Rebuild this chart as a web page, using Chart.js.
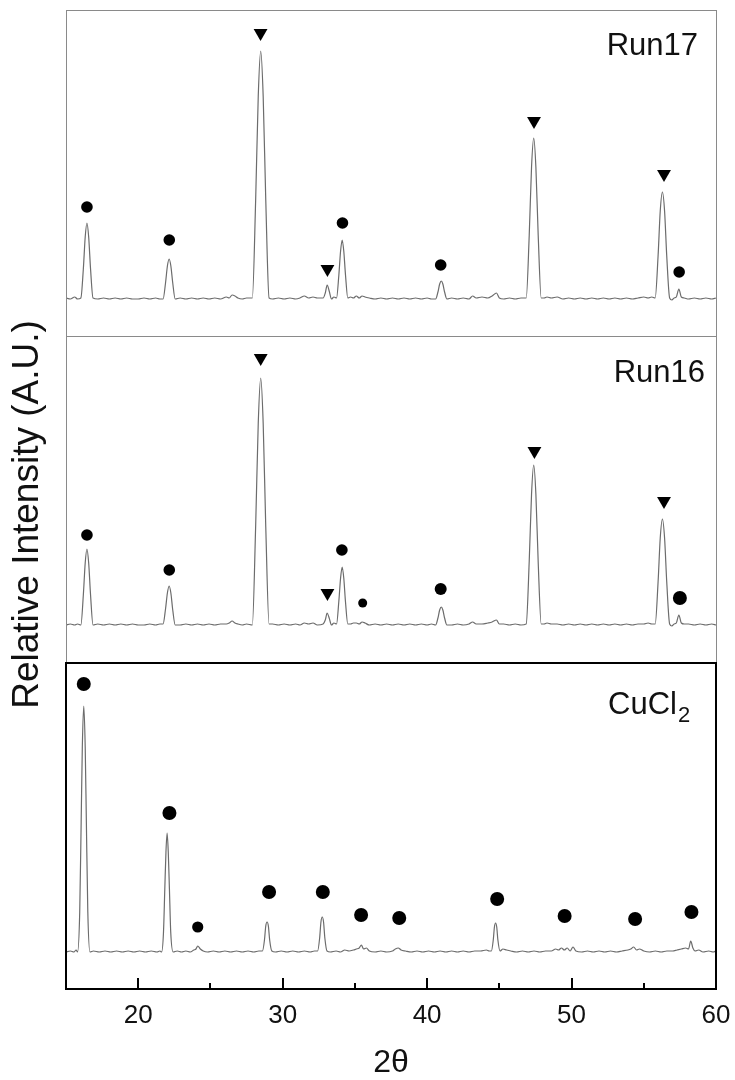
<!DOCTYPE html>
<html>
<head>
<meta charset="utf-8">
<title>XRD patterns</title>
<script src="https://cdn.jsdelivr.net/npm/chart.js@4.4.0/dist/chart.umd.min.js"></script>
<style>
  html, body { margin: 0; padding: 0; background: #fff; }
  canvas { display: block; }
</style>
</head>
<body>
<canvas id="xrd" width="735" height="1080"></canvas>
<script>
// 2-theta / intensity pairs (intensity above each pattern's own baseline)
const run17Pattern = [
  [15.0,1],[15.3,0],[15.6,2],[15.8,0],
  [16.03,1],[16.2,30],[16.33,62],[16.45,76],[16.57,62],[16.7,30],[16.87,1],
  [17.2,0],[17.6,1],[18.0,0],[18.4,1],[18.8,0],[19.2,1],[19.6,0],[20.0,0],[20.4,1],[20.8,0],[21.2,1],[21.5,0],
  [21.72,0],[21.89,16],[22.02,33],[22.14,40],[22.26,33],[22.39,16],[22.56,0],
  [22.9,1],[23.3,0],[23.7,1],[24.1,0],[24.5,1],[24.9,0],[25.3,1],[25.7,0],[26.1,2],[26.3,1],[26.5,4],[26.7,3],[26.9,1],[27.2,0],[27.5,1],
  [27.9,1],[28.13,99],[28.31,203],[28.48,248],[28.65,203],[28.83,99],[29.06,1],
  [29.3,0],[29.7,1],[30.1,0],[30.5,1],[30.9,0],[31.2,1],[31.5,3],[31.8,1],[32.1,2],[32.4,1],
  [32.8,1],[32.95,6],[33.08,14],[33.22,8],[33.38,0],[33.55,2],
  [33.73,1],[33.89,24],[34.01,48],[34.12,59],[34.23,48],[34.35,24],[34.51,1],
  [34.7,2],[34.9,1],[35.1,3],[35.3,1],[35.5,3],[35.7,2],[36.0,1],
  [36.4,0],[36.8,1],[37.2,0],[37.6,1],[38.0,0],[38.4,1],[38.8,0],[39.2,1],[39.6,0],[40.0,1],[40.3,0],
  [40.59,0],[40.75,7],[40.87,15],[40.98,18],[41.09,15],[41.21,7],[41.37,0],
  [41.7,1],[42.1,0],[42.5,1],[42.9,0],[43.15,3],[43.4,1],[43.8,2],[44.2,1],[44.5,3],[44.8,6],[45.0,1],[45.3,0],[45.7,1],[46.1,0],[46.5,1],
  [46.86,1],[47.07,64],[47.23,132],[47.38,161],[47.53,132],[47.69,64],[47.9,1],
  [48.1,1],[48.3,2],[48.6,1],[49.0,2],[49.4,0],[49.8,1],[50.2,0],[50.6,1],[51.0,0],[51.4,1],[51.8,0],[52.2,1],[52.6,0],[53.0,1],[53.4,0],[53.8,1],[54.2,0],[54.6,1],[55.0,2],[55.3,1],[55.55,2],
  [55.79,1],[55.99,43],[56.14,88],[56.29,107],[56.44,88],[56.59,43],[56.79,1],
  [56.95,-1],[57.1,1],[57.25,2],[57.43,10],[57.6,2],[57.8,1],
  [58.1,0],[58.5,1],[58.9,0],[59.3,1],[59.7,0],[60.0,1]
];

const run16Pattern = [
  [15.0,0],[15.3,1],[15.6,0],[15.8,1],
  [16.03,0],[16.2,30],[16.33,62],[16.45,76],[16.57,62],[16.7,30],[16.87,0],
  [17.2,1],[17.6,0],[18.0,1],[18.4,0],[18.8,1],[19.2,0],[19.6,1],[20.0,0],[20.4,0],[20.8,1],[21.2,0],[21.5,1],
  [21.72,1],[21.89,16],[22.02,32],[22.14,39],[22.26,32],[22.39,15],[22.56,0],
  [22.9,0],[23.3,1],[23.7,0],[24.1,1],[24.5,0],[24.9,1],[25.3,0],[25.7,1],[26.1,1],[26.3,2],[26.5,4],[26.7,2],[26.9,1],[27.2,0],[27.5,1],
  [27.9,0],[28.13,99],[28.31,202],[28.48,247],[28.65,202],[28.83,98],[29.06,1],
  [29.3,1],[29.7,0],[30.1,1],[30.5,0],[30.9,1],[31.2,0],[31.5,2],[31.8,1],[32.1,2],[32.4,0],
  [32.8,1],[32.95,5],[33.08,12],[33.22,7],[33.38,0],[33.55,2],
  [33.73,1],[33.89,24],[34.01,47],[34.12,58],[34.23,47],[34.35,23],[34.51,1],
  [34.7,1],[34.9,2],[35.1,2],[35.3,1],[35.5,3],[35.7,2],[36.0,0],
  [36.4,1],[36.8,0],[37.2,1],[37.6,0],[38.0,1],[38.4,0],[38.8,1],[39.2,0],[39.6,1],[40.0,0],[40.3,1],
  [40.59,0],[40.75,7],[40.87,15],[40.98,18],[41.09,15],[41.21,7],[41.37,0],
  [41.7,0],[42.1,1],[42.5,0],[42.9,1],[43.15,3],[43.4,1],[43.8,1],[44.2,2],[44.5,3],[44.8,5],[45.0,1],[45.3,1],[45.7,0],[46.1,1],[46.5,0],
  [46.86,1],[47.07,64],[47.23,131],[47.38,160],[47.53,131],[47.69,63],[47.9,1],
  [48.1,1],[48.3,2],[48.6,1],[49.0,1],[49.4,0],[49.8,1],[50.2,0],[50.6,1],[51.0,0],[51.4,1],[51.8,0],[52.2,1],[52.6,0],[53.0,1],[53.4,0],[53.8,1],[54.2,0],[54.6,1],[55.0,1],[55.3,2],[55.55,1],
  [55.79,1],[55.99,43],[56.14,87],[56.29,106],[56.44,87],[56.59,43],[56.79,1],
  [56.95,-1],[57.1,1],[57.25,2],[57.43,10],[57.6,2],[57.8,1],
  [58.1,1],[58.5,0],[58.9,1],[59.3,0],[59.7,1],[60.0,0]
];

const cucl2Pattern = [
  [15.0,0],[15.3,1],[15.55,0],[15.7,2],
  [15.8,0],[15.95,40],[16.05,130],[16.13,205],[16.23,246],[16.33,205],[16.41,130],[16.51,40],[16.66,0],
  [16.9,1],[17.3,0],[17.7,1],[18.1,0],[18.5,1],[18.9,0],[19.3,1],[19.7,0],[20.1,1],[20.5,0],[20.9,1],[21.3,0],[21.5,1],
  [21.62,0],[21.75,20],[21.84,63],[21.92,100],[22.0,119],[22.08,100],[22.16,63],[22.25,20],[22.42,0],
  [22.7,1],[23.0,0],[23.3,1],[23.6,0],[23.85,2],[24.0,3],[24.12,6],[24.3,3],[24.5,1],[24.8,0],[25.2,1],[25.6,0],[26.0,1],[26.4,0],[26.8,1],[27.2,0],[27.6,1],[28.0,0],[28.35,1],
  [28.6,1],[28.74,12],[28.83,26],[28.92,30],[29.01,26],[29.1,12],[29.25,1],
  [29.5,0],[29.9,1],[30.3,0],[30.7,1],[31.1,0],[31.5,1],[31.9,0],[32.2,1],
  [32.42,1],[32.56,14],[32.65,30],[32.74,35],[32.83,30],[32.92,14],[33.07,1],
  [33.3,0],[33.7,1],[34.0,0],[34.3,2],[34.6,1],[34.9,2],[35.1,3],[35.3,4],[35.45,7],[35.6,3],[35.8,4],[36.0,1],
  [36.4,0],[36.8,1],[37.2,0],[37.6,1],[37.8,3],[38.0,4],[38.2,2],[38.5,1],[38.9,0],[39.3,1],[39.7,0],[40.1,1],
  [40.5,0],[40.9,1],[41.3,0],[41.7,1],[42.1,0],[42.5,1],[42.9,0],[43.3,1],[43.7,1],[44.1,2],[44.3,1],
  [44.45,1],[44.58,12],[44.66,25],[44.74,29],[44.82,25],[44.9,12],[45.05,1],
  [45.25,3],[45.5,2],[45.8,1],[46.2,0],[46.6,1],[47.0,0],[47.4,1],[47.8,0],[48.2,1],[48.6,1],
  [48.9,3],[49.1,2],[49.3,4],[49.5,2],[49.7,4],[49.9,1],[50.1,5],[50.3,1],[50.7,0],[51.1,1],
  [51.5,0],[51.9,1],[52.3,0],[52.7,1],[53.1,0],[53.5,1],[53.9,2],[54.1,3],[54.3,5],[54.5,2],
  [54.7,3],[55.0,1],[55.4,0],[55.8,1],[56.2,0],[56.6,1],[57.0,1],[57.3,2],[57.6,3],[57.9,4],
  [58.1,3],[58.25,11],[58.4,4],[58.55,1],[58.8,2],[59.1,0],[59.5,1],[59.8,0],[60.0,1]
];

// phase markers: [2theta, height above baseline]
const run17Circles   = [[16.45,92],[22.15,59],[34.14,76],[40.94,34],[57.45,27]];
const run17Triangles = [[28.47,266],[33.1,30],[47.4,178],[56.4,125]];
const run16Circles   = [[16.45,90],[22.15,55],[34.1,75],[35.54,22],[40.94,36],[57.5,27]];
const run16Triangles = [[28.48,267],[33.1,32],[47.43,174],[56.4,124]];
const cucl2Circles   = [[16.23,268],[22.16,139],[24.12,25],[29.06,60],[32.78,60],[35.43,37],
                        [38.07,34],[44.85,53],[49.52,36],[54.4,33],[58.3,40]];

const sampleNames = ['Run17', 'Run16', 'CuCl'];
const xTicks = [20, 30, 40, 50, 60];
const xMinorTicks = [25, 35, 45, 55];

// stacking of the three panels on one value axis
const yTop = 979;
const panelEdges = [0, 326, 653, 979];
const baseline = { run17: 690, run16: 364, cucl2: 37 };

const FONT = "'Liberation Sans', Arial, Helvetica, sans-serif";

function shift(pairs, off) {
  return pairs.map(([a, v]) => ({ x: a, y: v + off }));
}

function trace(pairs, off) {
  return {
    type: 'line',
    data: shift(pairs, off),
    borderColor: '#6c6c6c',
    borderWidth: 1.2,
    pointRadius: 0,
    cubicInterpolationMode: 'monotone',
    fill: false
  };
}

function markers(pairs, off, style, radius) {
  return {
    type: 'scatter',
    data: shift(pairs, off),
    pointStyle: style,
    rotation: style === 'triangle' ? 180 : 0,
    pointRadius: radius,
    pointBackgroundColor: '#000',
    pointBorderWidth: 0,
    showLine: false
  };
}

const panelPlugin = {
  id: 'panels',
  beforeDraw(chart) {
    // the axis title in the reference sits a little below the middle of the plot
    chart.scales.y.bottom = chart.chartArea.bottom + 30;
  },
  afterDatasetsDraw(chart) {
    const { ctx, scales: { x, y } } = chart;
    const left = x.getPixelForValue(15);
    const right = x.getPixelForValue(60);
    const edge = panelEdges.map(v => y.getPixelForValue(v));

    ctx.save();
    // upper two panels: thin grey frames
    ctx.strokeStyle = '#8a8a8a';
    ctx.lineWidth = 1;
    ctx.strokeRect(left + 0.5, edge[3] + 0.5, right - left, edge[2] - edge[3]);
    ctx.strokeRect(left + 0.5, edge[2] + 0.5, right - left, edge[1] - edge[2]);

    // bottom panel: black frame with inward ticks
    ctx.strokeStyle = '#000';
    ctx.lineWidth = 2;
    ctx.strokeRect(left, edge[1], right - left, edge[0] - edge[1]);
    ctx.beginPath();
    xTicks.forEach(v => {
      const px = Math.round(x.getPixelForValue(v));
      ctx.moveTo(px, edge[0]);
      ctx.lineTo(px, edge[0] - 11);
    });
    xMinorTicks.forEach(v => {
      const px = Math.round(x.getPixelForValue(v));
      ctx.moveTo(px, edge[0]);
      ctx.lineTo(px, edge[0] - 6);
    });
    ctx.stroke();

    // sample names
    ctx.fillStyle = '#111';
    ctx.textBaseline = 'alphabetic';
    ctx.font = '31px ' + FONT;
    ctx.textAlign = 'right';
    ctx.fillText(sampleNames[0], right - 18, edge[3] + 45);
    ctx.fillText(sampleNames[1], right - 11, edge[2] + 46);
    ctx.textAlign = 'left';
    ctx.fillText(sampleNames[2], right - 108, edge[1] + 51);
    const w = ctx.measureText(sampleNames[2]).width;
    ctx.font = '22px ' + FONT;
    ctx.fillText('2', right - 108 + w + 1, edge[1] + 59);
    ctx.restore();
  }
};

new Chart(document.getElementById('xrd'), {
  type: 'line',
  data: {
    datasets: [
      trace(run17Pattern, baseline.run17),
      trace(run16Pattern, baseline.run16),
      trace(cucl2Pattern, baseline.cucl2),
      markers(run17Circles, baseline.run17, 'circle', 5.8),
      markers(run17Triangles, baseline.run17, 'triangle', 8),
      markers(run16Circles, baseline.run16, 'circle', [5.8, 5.8, 5.8, 4.5, 6, 7]),
      markers(run16Triangles, baseline.run16, 'triangle', 8),
      markers(cucl2Circles, baseline.cucl2, 'circle', [7, 7, 5.6, 7, 7, 7, 7, 7, 7, 7, 7])
    ]
  },
  options: {
    responsive: false,
    animation: false,
    layout: { padding: { left: 0, right: 19, top: 10, bottom: 0 } },
    plugins: {
      legend: { display: false },
      tooltip: { enabled: false }
    },
    scales: {
      x: {
        type: 'linear',
        min: 15,
        max: 60,
        afterFit: s => { s.height = 91; s.paddingLeft = 0; s.paddingRight = 0; },
        afterBuildTicks: s => { s.ticks = xTicks.map(v => ({ value: v })); },
        grid: { display: false, drawTicks: false },
        border: { display: false },
        ticks: {
          padding: 11,
          color: '#111',
          font: { family: FONT, size: 26 },
          maxRotation: 0
        },
        title: {
          display: true,
          text: '2θ',
          color: '#111',
          font: { family: FONT, size: 32, lineHeight: 1 },
          padding: { top: 0, bottom: 1 }
        }
      },
      y: {
        min: 0,
        max: yTop,
        afterFit: s => { s.width = 66; },
        grid: { display: false, drawTicks: false },
        border: { display: false },
        ticks: { display: false },
        title: {
          display: true,
          text: 'Relative Intensity (A.U.)',
          color: '#111',
          font: { family: FONT, size: 37, lineHeight: 1 },
          padding: { top: 9, bottom: 0 }
        }
      }
    }
  },
  plugins: [panelPlugin]
});
</script>
</body>
</html>
